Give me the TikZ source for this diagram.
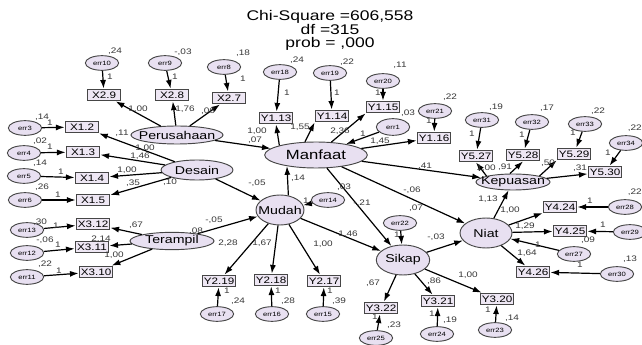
\documentclass[tikz,border=0pt]{standalone}
\usepackage{fontspec}
\setmainfont[FakeStretch=1.25]{Liberation Sans}
\usetikzlibrary{arrows.meta,shapes.geometric}

\definecolor{latfill}{RGB}{232,224,241}
\definecolor{obsfill}{RGB}{238,231,244}
\definecolor{edgegray}{RGB}{70,70,70}
\definecolor{numgray}{RGB}{55,55,55}

\newcommand{\lname}[1]{\makebox[0pt]{#1}}

\begin{document}
\begin{tikzpicture}[
      x=0.75pt, y=-0.75pt,
      lat/.style 2 args={
          ellipse, draw=edgegray, fill=latfill, line width=0.7pt,
          inner sep=0pt, minimum width=#1, minimum height=#2,
          font=\fontsize{8.5}{9}\selectfont
        },
      res/.style={
          ellipse, draw=edgegray, fill=latfill, line width=0.7pt,
          inner sep=0pt, minimum width=25pt, minimum height=11pt,
          font=\fontsize{4.6}{5}\selectfont
        },
      obs/.style={
          rectangle, draw=edgegray, fill=obsfill, line width=1.1pt,
          inner sep=0pt, minimum width=25pt, minimum height=8.5pt,
          font=\fontsize{7}{8}\selectfont
        },
      est/.style={inner sep=0pt, text=numgray, font=\fontsize{6}{7}\selectfont},
      arr/.style={-{Latex[length=6.5pt,width=4.5pt]}, line width=0.9pt},
    ]
    \useasboundingbox (0,0) rectangle (642,345);

    \node[align=center, font=\fontsize{10.5}{9.4}\selectfont] (fit) at (330,30)
      {Chi-Square =606,558\\df =315\\prob = ,000};

    % latent variables
    \node[lat={69pt}{13.5pt}] (perusahaan) at (177,135) {\lname{Perusahaan}};
    \node[lat={54pt}{15pt}]   (desain)     at (197,170) {\lname{Desain}};
    \node[lat={63pt}{13pt}]   (terampil)   at (172,241) {\lname{Terampil}};
    \node[lat={77pt}{19.5pt}, font=\fontsize{10}{11}\selectfont] (manfaat) at (316,155) {\lname{Manfaat}};
    \node[lat={36pt}{22.5pt}] (mudah)      at (280,210) {\lname{Mudah}};
    \node[lat={40pt}{22.5pt}] (sikap)      at (403,260) {\lname{Sikap}};
    \node[lat={39pt}{22.5pt}] (niat)       at (486,233) {\lname{Niat}};
    \node[lat={55.5pt}{12pt}] (kepuasan)   at (513,182) {\lname{Kepuasan}};

    % observed variables
    \node[obs] (x29) at (104,95) {X2.9};
    \node[obs] (x28) at (172,95) {X2.8};
    \node[obs] (x27) at (229,98) {X2.7};
    \node[obs] (x12) at (82,127) {X1.2};
    \node[obs] (x13) at (83,152) {X1.3};
    \node[obs] (x14) at (92,178) {X1.4};
    \node[obs] (x15) at (93,200) {X1.5};
    \node[obs] (x312) at (93,224) {X3.12};
    \node[obs] (x311) at (92,247) {X3.11};
    \node[obs] (x310) at (96,272) {X3.10};
    \node[obs] (y113) at (276,118) {Y1.13};
    \node[obs] (y114) at (332,116) {Y1.14};
    \node[obs] (y115) at (383,107) {Y1.15};
    \node[obs] (y116) at (434,138) {Y1.16};
    \node[obs] (y219) at (219,281) {Y2.19};
    \node[obs] (y218) at (271,280) {Y2.18};
    \node[obs] (y217) at (324,281) {Y2.17};
    \node[obs] (y322) at (381,308) {Y3.22};
    \node[obs] (y321) at (438,301) {Y3.21};
    \node[obs] (y320) at (497,299) {Y3.20};
    \node[obs] (y424) at (560,207) {Y4.24};
    \node[obs] (y425) at (570,231) {Y4.25};
    \node[obs] (y426) at (533,272) {Y4.26};
    \node[obs] (y527) at (476,156) {Y5.27};
    \node[obs] (y528) at (523,155) {Y5.28};
    \node[obs] (y529) at (574,154) {Y5.29};
    \node[obs] (y530) at (605,172) {Y5.30};

    % error terms
    \node[res] (err10) at (102,63) {err10};
    \node[res] (err9)  at (165,63) {err9};
    \node[res] (err8)  at (224,67) {err8};
    \node[res] (err3)  at (25,128) {err3};
    \node[res] (err4)  at (24,153) {err4};
    \node[res] (err5)  at (24,176) {err5};
    \node[res] (err6)  at (25,200) {err6};
    \node[res] (err13) at (27,230) {err13};
    \node[res] (err12) at (27,253) {err12};
    \node[res] (err11) at (27,277) {err11};
    \node[res] (err18) at (280,72) {err18};
    \node[res] (err19) at (330,73) {err19};
    \node[res] (err20) at (383,81) {err20};
    \node[res] (err21) at (435,111) {err21};
    \node[res, minimum height=12.5pt] (err1) at (393,127) {err1};
    \node[res] (err14) at (328,200) {err14};
    \node[res] (err22) at (400,223) {err22};
    \node[res] (err17) at (217,314) {err17};
    \node[res] (err16) at (272,314) {err16};
    \node[res] (err15) at (323,314) {err15};
    \node[res] (err25) at (376,338) {err25};
    \node[res] (err24) at (437,334) {err24};
    \node[res] (err23) at (495,330) {err23};
    \node[res] (err27) at (574,254) {err27};
    \node[res] (err28) at (625,207) {err28};
    \node[res] (err29) at (630,232) {err29};
    \node[res] (err30) at (617,274) {err30};
    \node[res] (err31) at (482,120) {err31};
    \node[res] (err32) at (532,122) {err32};
    \node[res] (err33) at (585,124) {err33};
    \node[res] (err34) at (626,143) {err34};

    % paths
    \foreach \a/\b in {err10/x29, err9/x28, err8/x27, perusahaan/x29, perusahaan/x28,
        perusahaan/x27, perusahaan/manfaat, err3/x12, err4/x13, err5/x14, err6/x15,
        desain/x12, desain/x13, desain/x14, desain/x15, desain/mudah,
        err13/x312, err12/x311, err11/x310, terampil/x312, terampil/x311,
        terampil/x310, terampil/mudah, err18/y113, err19/y114, err20/y115,
        err21/y116, manfaat/y116, err1/manfaat, err14/mudah, mudah/y219,
        mudah/y218, mudah/y217, err17/y219, err16/y218, err15/y217, mudah/sikap,
        manfaat/sikap, manfaat/niat, manfaat/kepuasan, err22/sikap, sikap/y322,
        sikap/y321, sikap/y320, err25/y322, err24/y321, err23/y320, sikap/niat,
        niat/kepuasan, niat/y424, niat/y425, niat/y426, err28/y424, err29/y425,
        err30/y426, err27/niat, kepuasan/y530, err31/y527, err32/y528,
        err33/y529, err34/y530}
      \draw[arr] (\a) -- (\b);
    \draw[arr] (manfaat.north west) -- (y113.south);
    \draw[arr] (manfaat.130) -- (y114.south west);
    \draw[arr] (manfaat.40) -- (y115.south west);
    \draw[arr] (mudah.60) -- (manfaat.201);
    \draw[arr] (kepuasan.north west) -- (y527.south);
    \draw[arr] (kepuasan.110) -- (y528.south);
    \draw[arr] (kepuasan.north east) -- (y529.south west);

    % estimates
    \node[est] at (115,51) {,24};  \node[est] at (110,77) {1};
    \node[est] at (183,52) {-,03}; \node[est] at (175,77) {1};
    \node[est] at (243,53) {,18};  \node[est] at (243,79) {1};
    \node[est] at (138,109) {1,00}; \node[est] at (185,109) {1,76};
    \node[est] at (208,111) {,06};  \node[est] at (145,148) {1,00};
    \node[est] at (42,117) {,14}; \node[est] at (50,123) {1};
    \node[est] at (40,141) {,02}; \node[est] at (50,147) {1};
    \node[est] at (40,163) {,14}; \node[est] at (61,172) {1};
    \node[est] at (42,187) {,26}; \node[est] at (58,195) {1};
    \node[est] at (122,133) {,11}; \node[est] at (140,156) {1,46};
    \node[est] at (127,170) {1,00}; \node[est] at (133,183) {,35};
    \node[est] at (170,182) {,10};
    \node[est] at (40,222) {,30};  \node[est] at (56,226) {1};
    \node[est] at (45,240) {-,06}; \node[est] at (58,245) {1};
    \node[est] at (45,264) {,22};  \node[est] at (59,271) {1};
    \node[est] at (136,225) {,67}; \node[est] at (101,239) {2,14};
    \node[est] at (114,255) {1,00};
    \node[est] at (196,231) {,08}; \node[est] at (214,220) {-,05};
    \node[est] at (297,60) {,24}; \node[est] at (287,93) {1};
    \node[est] at (347,62) {,22}; \node[est] at (337,93) {1};
    \node[est] at (400,65) {,11}; \node[est] at (378,93) {1};
    \node[est] at (257,131) {1,00}; \node[est] at (255,140) {,07};
    \node[est] at (300,127) {1,55}; \node[est] at (340,131) {2,36};
    \node[est] at (408,113) {,03}; \node[est] at (450,97) {,22};
    \node[est] at (429,121) {1};
    \node[est] at (363,134) {1}; \node[est] at (380,141) {1,45};
    \node[est] at (298,178) {,14}; \node[est] at (257,183) {-,05};
    \node[est] at (306,201) {1};
    \node[est] at (344,187) {,03}; \node[est] at (362,203) {-,21};
    \node[est] at (425,166) {,41}; \node[est] at (412,190) {-,06};
    \node[est] at (416,208) {,07};
    \node[est] at (228,243) {2,28}; \node[est] at (262,243) {1,67};
    \node[est] at (323,244) {1,00}; \node[est] at (348,234) {1,46};
    \node[est] at (227,291) {1}; \node[est] at (238,301) {,24};
    \node[est] at (278,291) {1}; \node[est] at (288,301) {,28};
    \node[est] at (330,291) {1}; \node[est] at (339,301) {,39};
    \node[est] at (397,235) {1};
    \node[est] at (373,283) {,67}; \node[est] at (375,317) {1};
    \node[est] at (394,325) {,23};
    \node[est] at (434,281) {,86}; \node[est] at (432,314) {1};
    \node[est] at (450,320) {,19};
    \node[est] at (468,275) {1,00}; \node[est] at (488,310) {1};
    \node[est] at (512,318) {,14};
    \node[est] at (436,237) {-,03};
    \node[est] at (488,199) {1,13}; \node[est] at (510,210) {1,00};
    \node[est] at (590,201) {1}; \node[est, anchor=east] at (642,192) {,22};
    \node[est] at (525,226) {1,29}; \node[est] at (603,225) {1};
    \node[est] at (588,240) {,09}; \node[est] at (538,245) {1};
    \node[est] at (527,253) {1,64}; \node[est] at (580,265) {1};
    \node[est] at (630,259) {,13};
    \node[est] at (496,107) {,19}; \node[est] at (472,134) {1};
    \node[est] at (547,108) {,17}; \node[est] at (522,135) {1};
    \node[est] at (598,111) {,22}; \node[est] at (573,133) {1};
    \node[est, anchor=east] at (642,128) {,22}; \node[est] at (608,153) {1};
    \node[est] at (486,168) {1,00}; \node[est] at (505,167) {,91};
    \node[est] at (548,163) {,50}; \node[est] at (580,168) {,31};
  \end{tikzpicture}
\end{document}
